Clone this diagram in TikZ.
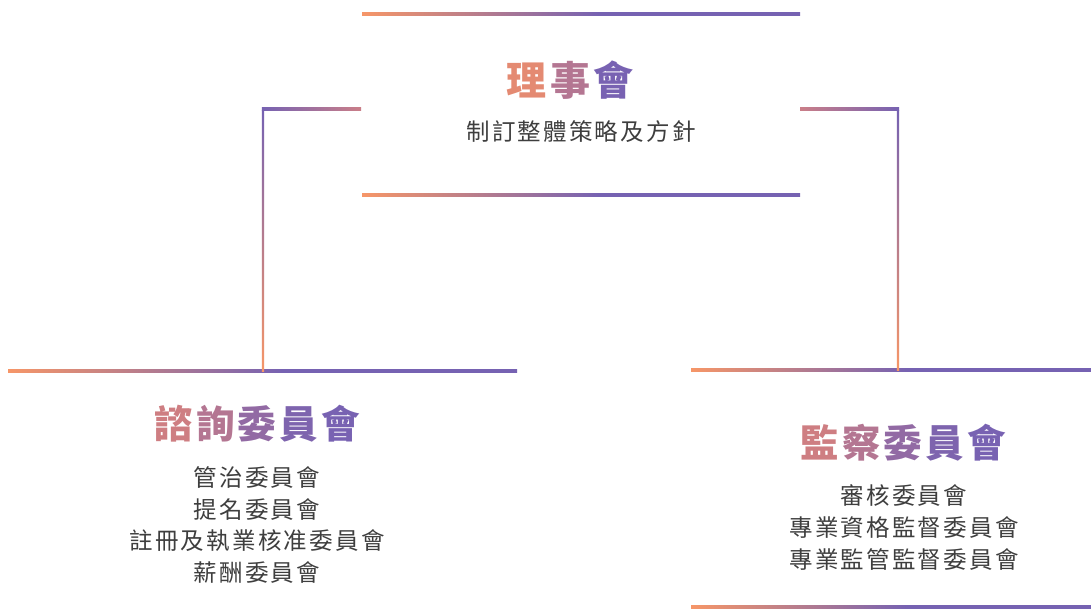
\documentclass[tikz,border=0pt]{standalone}
\usepackage{fontspec}
\newfontfamily\cjk{Noto Sans CJK TC}
\definecolor{orng}{RGB}{246,150,104}
\definecolor{purp}{RGB}{118,98,178}
\definecolor{pinkc}{RGB}{202,126,136}
\definecolor{txt}{RGB}{62,62,62}
\definecolor{ca}{RGB}{228,138,114}
\definecolor{cb}{RGB}{206,126,130}
\definecolor{cc}{RGB}{180,118,146}
\definecolor{cd}{RGB}{146,106,164}
\definecolor{ce}{RGB}{126,100,174}
\definecolor{cf}{RGB}{120,98,178}
\newcommand{\gap}{\hspace{3.2pt}}
\pgfdeclarehorizontalshading{optop}{100bp}{color(0bp)=(orng); color(25bp)=(orng); color(52bp)=(purp); color(100bp)=(purp)}
\tikzset{
  hline/.style={shading=optop},
  title/.style={font=\cjk\bfseries\fontsize{40}{44}\selectfont, inner sep=0pt},
  ctitle/.style={font=\cjk\bfseries\fontsize{38.5}{42}\selectfont, inner sep=0pt},
  item/.style={font=\cjk\fontsize{23.5}{31.8}\selectfont\addfontfeatures{LetterSpace=9.5}, text=txt, align=center, inner sep=0pt},
}
\begin{document}
\begin{tikzpicture}[x=1pt,y=-1pt]
\useasboundingbox (0,0) rectangle (1091,609);
% box coordinates
\coordinate (tTL) at (362,14);   \coordinate (tTR) at (800,14);
\coordinate (tBL) at (362,195);  \coordinate (tBR) at (800,195);
\coordinate (tML) at (361,109);  \coordinate (tMR) at (800,109);
\coordinate (lcor) at (263,109); \coordinate (rcor) at (898,109);
\coordinate (lTL) at (8,371);    \coordinate (lTR) at (517,371);
\coordinate (lJ) at (263,371);
\coordinate (rTL) at (691,370);  \coordinate (rTR) at (1091,370);
\coordinate (rJ) at (898,370);
\coordinate (rBL) at (691,607);  \coordinate (rBR) at (1091,607);
% box lines
\shade[hline] ([yshift=1.2pt]tTL) rectangle ([yshift=-1.2pt]tTR);
\shade[hline] ([yshift=1.2pt]tBL) rectangle ([yshift=-1.2pt]tBR);
\shade[hline] ([yshift=1.2pt]lTL) rectangle ([yshift=-1.2pt]lTR);
\shade[hline] ([yshift=1.2pt]rTL) rectangle ([yshift=-1.2pt]rTR);
\shade[hline] ([yshift=1.2pt]rBL) rectangle ([yshift=-1.2pt]rBR);
% connectors
\shade[left color=purp,right color=pinkc] ([xshift=-1.2pt,yshift=1.2pt]lcor) rectangle ([yshift=-1.2pt]tML);
\shade[top color=purp,bottom color=orng] ([xshift=-1.2pt,yshift=-1.2pt]lcor) rectangle ([xshift=1.2pt]lJ);
\shade[left color=pinkc,right color=purp] ([yshift=1.2pt]tMR) rectangle ([xshift=1.2pt,yshift=-1.2pt]rcor);
\shade[top color=purp,bottom color=orng] ([xshift=-1.2pt,yshift=-1.2pt]rcor) rectangle ([xshift=1.2pt]rJ);
% texts
\node[title] (board) at (570,80) {{\color{ca}理}\gap{\color{cc}事}\gap{\color{cf}會}};
\node[item] (boardsub) at (581,132) {制訂整體策略及方針};
\node[ctitle] (adv) at (257,424) {{\color{cb}諮}\gap{\color{cc}詢}\gap{\color{cd}委}\gap{\color{ce}員}\gap{\color{cf}會}};
\node[item] (advlist) at (257,525) {管治委員會\\提名委員會\\註冊及執業核准委員會\\薪酬委員會};
\node[ctitle] (sup) at (903,443) {{\color{cb}監}\gap{\color{cc}察}\gap{\color{cd}委}\gap{\color{ce}員}\gap{\color{cf}會}};
\node[item] (suplist) at (904,527.5) {審核委員會\\專業資格監督委員會\\專業監管監督委員會};
\end{tikzpicture}
\end{document}
